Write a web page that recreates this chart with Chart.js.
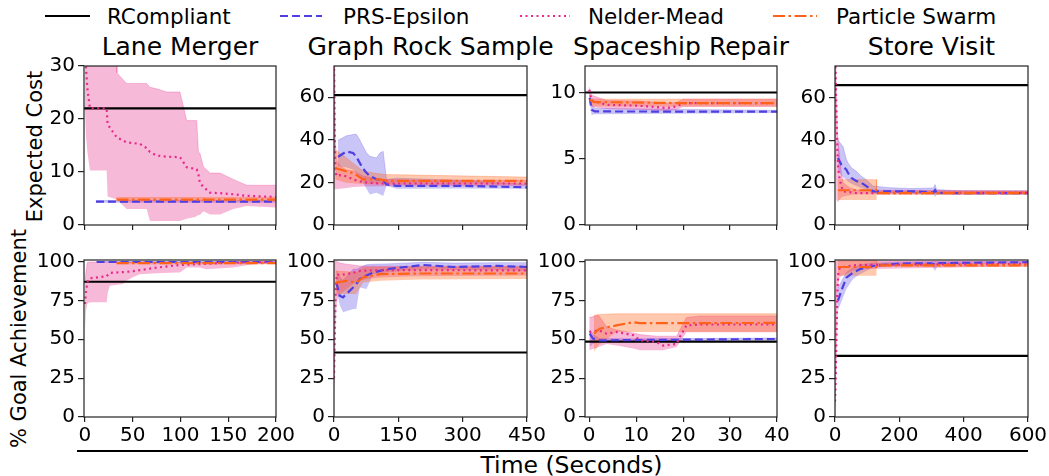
<!DOCTYPE html>
<html><head><meta charset="utf-8">
<script src="https://cdn.jsdelivr.net/npm/chart.js@4.4.0/dist/chart.umd.min.js"></script>
<style>
body{margin:0;background:#fff;width:1049px;height:476px;overflow:hidden;position:relative;font-family:"DejaVu Sans",sans-serif;color:#000}
canvas{position:absolute}
.t{position:absolute;white-space:nowrap;line-height:1}
svg{position:absolute;overflow:visible}
</style></head><body>
<script>
// ---------------- DATA ----------------
const methods = ['RCompliant', 'PRS-Epsilon', 'Nelder-Mead', 'Particle Swarm'];
const taskTitles = ['Lane Merger', 'Graph Rock Sample', 'Spaceship Repair', 'Store Visit'];
const rowLabels = ['Expected Cost', '% Goal Achievement'];
const xAxisLabel = 'Time (Seconds)';

const laneXTicks = [0, 50, 100, 150, 200];
const rockXTicks = [0, 150, 300, 450];
const shipXTicks = [0, 10, 20, 30, 40];
const storeXTicks = [0, 200, 400, 600];
const laneCostTicks = [0, 10, 20, 30];
const rockCostTicks = [0, 20, 40, 60];
const shipCostTicks = [0, 5, 10];
const storeCostTicks = [0, 20, 40, 60];
const goalTicks = [0, 25, 50, 75, 100];

// RCompliant constant values [cost, goal %]
const rcLane = [22, 87];
const rcRock = [61, 41.5];
const rcShip = [10, 48.5];
const rcStore = [66, 39.3];

// rows: [time, mean, lower, upper]
const laneCostPRS = [[11.5, 4.4, 4.2, 4.6], [200, 4.4, 4.2, 4.6]];
const laneCostPS = [[33, 4.8, 4.5, 5.2], [200, 4.8, 4.5, 5.2]];
const laneCostNM = [[0, 32, 22, 34], [1, 30, 17, 34], [2.4, 26, 14, 34], [5.2, 22, 10.3, 34], [22.7, 22, 10.3, 34],
  [23.7, 19, 5.4, 34], [33, 16.6, 4.8, 34], [33.5, 16.5, 4.8, 28.7], [43.6, 15.6, 3.0, 26.7], [57.6, 15.3, 3.0, 26.7],
  [64.6, 14.5, 3.0, 26.7], [68, 13.8, 0.75, 26], [75, 13.1, 0.75, 25.7], [85.5, 12.9, 0.75, 25.1], [99.5, 12.8, 0.75, 25.1],
  [106.5, 10.9, 1.2, 19.7], [115.2, 10.6, 1.5, 19.7], [117, 10.5, 1.7, 19.7], [118.8, 9.5, 1.9, 13.8], [120.4, 7.9, 1.9, 13.5],
  [124, 7.2, 2.6, 11], [130.9, 6.1, 2.0, 9.8], [141.4, 6.0, 2.0, 9.8], [155.3, 5.8, 3.0, 8.6], [169.3, 5.5, 3.6, 7.5], [200, 5.3, 3.3, 7.5]];

const laneGoalPRS = [[12.2, 99.7, 99.4, 100], [200, 99.7, 99.4, 100]];
const laneGoalPS = [[33, 99.0, 98.3, 99.6], [200, 99.0, 98.3, 99.6]];
const laneGoalNM = [[0, 72.7, 55.8, 88], [1, 80, 68, 93], [2.4, 86, 72.7, 99.3], [3.5, 88.7, 73.5, 99.5], [6.9, 89.4, 73.8, 99.7],
  [22.7, 90.5, 73.8, 99.7], [24, 91.5, 80.2, 99.7], [26, 92.7, 84.4, 99.7], [40, 93.2, 85.5, 99.7], [43.6, 93.4, 87.6, 99.7],
  [50.6, 93.8, 90, 99.7], [57.6, 94.5, 91.9, 99.7], [75, 96.1, 92.5, 99.7], [96, 97.6, 92.9, 99.7], [99.5, 97.7, 92.9, 99.7],
  [106.5, 98, 96.1, 99.7], [120, 98.3, 96.1, 99.7], [127, 98.5, 95, 99.7], [155, 99.3, 96.1, 99.8], [176, 99.5, 98.3, 99.8], [200, 99.9, 98.7, 100]];

const rockCostPRS = [[9.4, 32, 27.6, 40], [11.7, 32.3, 27.6, 40], [28.9, 34.6, 27, 41.9], [44.5, 33.8, 26.1, 42.5], [52.2, 32, 24, 42.6],
  [60, 29.2, 22, 40], [67.9, 26.5, 20, 36.9], [75.7, 24.5, 17, 34], [83.5, 23, 14.3, 32.3], [99, 21.5, 15.1, 31.5],
  [106.8, 21.3, 14.5, 33.8], [114.6, 21, 13.6, 34.6], [122.4, 19, 18.4, 21.4], [145.7, 18.4, 17, 22], [300, 18.4, 17.2, 21], [450, 17.7, 17, 19]];
const rockCostPS = [[3, 26.8, 21.4, 35.4], [29, 25.2, 19.9, 31.5], [44.5, 24.4, 19.6, 29], [68, 21.4, 19.3, 25.2], [107, 21.4, 19.1, 24],
  [122, 20.7, 19, 23.7], [450, 20.7, 19, 22.5]];
const rockCostNM = [[0, 76, 30, 78], [1.6, 45, 17, 74], [3, 27, 16.7, 40], [5.5, 23, 16.8, 30.7], [13.3, 23.4, 17, 28], [28.9, 22.9, 17.4, 25.8],
  [44.5, 21.4, 17.8, 25.5], [67.9, 20.1, 18.1, 23], [106.8, 19.5, 18.2, 21.5], [200, 19.5, 18.2, 21], [450, 19.5, 18.3, 21]];

const rockGoalPRS = [[5.5, 86.5, 82, 94], [13.3, 78, 72, 90], [21, 77, 67.4, 88], [44.5, 83.3, 69.5, 95], [52, 85.5, 69.5, 95],
  [60, 88.7, 83.3, 96], [75.7, 91, 82.3, 98], [91.3, 92.9, 91.9, 98.3], [122.4, 95.1, 92.9, 98.5], [208, 97.8, 95, 99.5],
  [280, 96.5, 94.5, 99], [380, 97.2, 94.5, 99.3], [450, 96.5, 94, 99.3]];
const rockGoalPS = [[4, 86.5, 79.2, 93.9], [29, 87.6, 79.2, 93.5], [52, 86.5, 79.2, 92.9], [68, 89.8, 86.5, 96.1], [107, 91.9, 87.6, 96.3],
  [200, 92.3, 88.5, 96.5], [450, 92.3, 88.7, 96.5]];
const rockGoalNM = [[0, 25, 18, 60], [1.6, 49.3, 23.8, 100], [4, 81.2, 60, 100], [5.5, 88, 70.6, 100], [7, 91.9, 75, 100], [13.3, 91.3, 79.1, 99],
  [29, 91.9, 82, 98.3], [44.5, 92.8, 85.5, 97.8], [60, 94, 87.5, 97.2], [75.7, 94.2, 88.7, 97.2], [107, 94.4, 89.8, 97], [185, 94.5, 90.5, 97], [450, 94.3, 91, 97]];

const shipCostPRS = [[0.1, 9.6, 9.3, 9.9], [0.5, 8.7, 8.3, 9.1], [1.2, 8.57, 8.35, 8.8], [40, 8.55, 8.45, 8.65]];
const shipCostPS = [[0.1, 9.45, 9.1, 9.6], [1, 9.28, 8.95, 9.5], [19.3, 9.2, 8.95, 9.5], [40, 9.2, 8.95, 9.5]];
const shipCostNM = [[0, 10.2, 9.6, 10.4], [0.5, 9.4, 8.9, 9.8], [3.7, 9.07, 8.75, 9.4], [10.8, 9.0, 8.7, 9.35], [16.5, 8.83, 8.6, 9.2],
  [18.6, 8.95, 8.7, 9.25], [20, 9.2, 8.9, 9.5], [40, 9.2, 8.9, 9.5]];

const shipGoalPRS = [[0.1, 53.6, 45, 56], [0.8, 50.4, 47, 53], [2.2, 49.3, 48.3, 50.5], [10, 49.5, 48.8, 50.3], [40, 50.2, 49.6, 50.8]];
const shipGoalPS = [[1, 53.6, 42, 65.4], [2.2, 56.8, 47, 66], [5.8, 58.9, 54.7, 66.4], [9.4, 61, 54.7, 66.4], [10.8, 60.4, 54.7, 66.4], [40, 60.5, 54.7, 66.4]];
const shipGoalNM = [[0, 54.7, 43, 64], [2, 55.8, 45, 65.4], [3.7, 53.6, 47, 58], [5.8, 54.7, 46, 56], [9.4, 52.6, 44, 54], [10.8, 49.3, 43, 53],
  [14.3, 48.3, 43, 52], [15.7, 46, 43, 52], [18.6, 47, 45, 52], [19.3, 51.5, 48, 56], [20.7, 58.9, 54.6, 64], [23.5, 59.5, 54.6, 65], [40, 59.5, 54.6, 65]];

const storeCostPRS = [[9, 31.6, 26.1, 40.2], [19.7, 28.5, 23.5, 38], [25, 27.5, 22.5, 37], [35.3, 26.1, 21.4, 31], [40.6, 24.5, 20.5, 29.3],
  [51, 22.2, 19.4, 27], [66.6, 20.7, 18.4, 25.3], [82, 19.9, 17.5, 23], [97.6, 18.3, 16.5, 21.4], [118, 15.9, 15, 18.4], [170, 15.9, 15, 17.6],
  [240, 15.9, 14.8, 17.2], [306, 15.4, 14.3, 17.5], [311, 16.5, 13.5, 19.1], [316, 15.2, 14.3, 16.7], [379, 15, 14.3, 16.2], [600, 15, 14.3, 16.2]];
const storeCostPS = [[9, 16.4, 11.8, 21.4], [129, 16.4, 11.8, 21.4], [129.5, 15, 14.3, 16], [600, 15, 14.3, 16]];
const storeCostNM = [[0, 80, 60, 80], [2.2, 70, 30, 78], [4.3, 55, 12, 62], [7.4, 35.5, 11, 44], [10.5, 26, 11, 38], [14.7, 21.4, 12, 32],
  [20, 18.5, 13, 24.6], [25, 15.9, 13.5, 20], [45, 15.5, 14, 17.6], [66.6, 15, 14.5, 16.5], [600, 15.2, 14.5, 16]];

const storeGoalPRS = [[9, 74.9, 68.5, 83.3], [19.7, 81.2, 74, 87], [35.3, 89.7, 82.3, 92.9], [56, 92.9, 88.7, 96], [77, 95.1, 91.9, 97.8],
  [118, 97.2, 96.1, 99], [201, 98.7, 97.5, 99.6], [300, 98.9, 97.8, 99.8], [311, 98, 94, 100], [320, 99, 98, 99.8], [600, 99.6, 99, 100]];
const storeGoalPS = [[9, 96.5, 90.8, 100.5], [129, 96.5, 90.8, 100.5], [129.5, 97.5, 96.5, 98.7], [600, 97.5, 96.5, 98.7]];
const storeGoalNM = [[0, 10, 0, 30], [2, 23.8, 10, 60], [4.3, 49.3, 25, 100], [7.4, 81.2, 60, 100.5], [10.5, 92.9, 85, 100.5],
  [14.7, 96.1, 90, 100.5], [66.6, 97.8, 95, 100.5], [600, 98.5, 97, 100]];

// ---------------- STYLE / LAYOUT ----------------
const ST = {
  rc: {color: '#000000', dash: []},
  prs: {color: '#4f3fe3', fill: 'rgba(79,63,227,0.30)', dash: [8, 4]},
  nm: {color: '#e7298a', fill: 'rgba(231,41,138,0.33)', dash: [2, 3.5]},
  ps: {color: '#ff6319', fill: 'rgba(255,99,25,0.35)', dash: [12, 3.5, 2.5, 3.5]}
};
const cols = [[84, 276], [334, 527], [585, 777], [835, 1028]];
const rowsPx = [[65, 226], [259, 417]];
const FONT = '"DejaVu Sans", sans-serif';
const TICK_SIZE = 20;

const panels = [
  {row: 0, col: 0, xr: [-1, 200], yr: [0, 30], xt: laneXTicks, yt: laneCostTicks, rc: rcLane[0], prs: laneCostPRS, nm: laneCostNM, ps: laneCostPS},
  {row: 0, col: 1, xr: [0, 450], yr: [0, 74.7], xt: rockXTicks, yt: rockCostTicks, rc: rcRock[0], prs: rockCostPRS, nm: rockCostNM, ps: rockCostPS},
  {row: 0, col: 2, xr: [-0.9, 40], yr: [0, 12], xt: shipXTicks, yt: shipCostTicks, rc: rcShip[0], prs: shipCostPRS, nm: shipCostNM, ps: shipCostPS},
  {row: 0, col: 3, xr: [0, 600], yr: [0, 75], xt: storeXTicks, yt: storeCostTicks, rc: rcStore[0], prs: storeCostPRS, nm: storeCostNM, ps: storeCostPS},
  {row: 1, col: 0, xr: [-1, 200], yr: [0, 101], xt: laneXTicks, yt: goalTicks, rc: rcLane[1], prs: laneGoalPRS, nm: laneGoalNM, ps: laneGoalPS},
  {row: 1, col: 1, xr: [0, 450], yr: [0, 101], xt: rockXTicks, yt: goalTicks, rc: rcRock[1], prs: rockGoalPRS, nm: rockGoalNM, ps: rockGoalPS},
  {row: 1, col: 2, xr: [-0.9, 40], yr: [0, 101], xt: shipXTicks, yt: goalTicks, rc: rcShip[1], prs: shipGoalPRS, nm: shipGoalNM, ps: shipGoalPS},
  {row: 1, col: 3, xr: [0, 600], yr: [0, 101], xt: storeXTicks, yt: goalTicks, rc: rcStore[1], prs: storeGoalPRS, nm: storeGoalNM, ps: storeGoalPS}
];

const boxPlugin = {
  id: 'box',
  afterDatasetsDraw(chart) {
    const {ctx, chartArea: a} = chart;
    ctx.save();
    ctx.strokeStyle = '#222';
    ctx.lineWidth = 1.2;
    ctx.strokeRect(a.left, a.top, a.right - a.left, a.bottom - a.top);
    ctx.restore();
  }
};

function bandAndLine(rows, st, label, lineOrder, bandOrder) {
  return [
    {label: label, data: rows.map(r => ({x: r[0], y: r[1]})), borderColor: st.color, borderDash: st.dash,
      borderWidth: 2.2, fill: false, order: lineOrder},
    {label: label + ' lower', data: rows.map(r => ({x: r[0], y: r[2]})), borderColor: 'rgba(0,0,0,0)',
      borderWidth: 0, fill: false, order: bandOrder},
    {label: label + ' upper', data: rows.map(r => ({x: r[0], y: r[3]})), borderColor: st.fill,
      backgroundColor: st.fill, borderWidth: 0.8, fill: '-1', order: bandOrder}
  ];
}

function makeChart(p) {
  const [L, R] = cols[p.col];
  const [T, B] = rowsPx[p.row];
  const padL = 62, padT = 14, padR = 32, padB = p.row === 0 ? 14 : 42;
  const c = document.createElement('canvas');
  c.width = (R - L) + padL + padR;
  c.height = (B - T) + padT + padB;
  c.style.left = (L - padL) + 'px';
  c.style.top = (T - padT) + 'px';
  document.body.appendChild(c);

  const datasets = [
    {label: methods[0], data: [{x: p.xr[0], y: p.rc}, {x: p.xr[1], y: p.rc}], borderColor: ST.rc.color,
      borderWidth: 2.2, fill: false, order: 4},
    ...bandAndLine(p.prs, ST.prs, methods[1], 3, 12),
    ...bandAndLine(p.nm, ST.nm, methods[2], 2, 11),
    ...bandAndLine(p.ps, ST.ps, methods[3], 1, 10)
  ];

  new Chart(c, {
    type: 'line',
    data: {datasets},
    options: {
      responsive: false, animation: false, devicePixelRatio: 1,
      layout: {padding: {left: 0, top: padT, right: padR, bottom: 0}},
      plugins: {legend: {display: false}, tooltip: {enabled: false}, title: {display: false}},
      elements: {point: {radius: 0}, line: {tension: 0}},
      scales: {
        x: {
          type: 'linear', min: p.xr[0], max: p.xr[1],
          afterBuildTicks: s => { s.ticks = p.xt.map(v => ({value: v})); },
          afterFit: s => { s.height = padB; },
          ticks: {display: p.row === 1, font: {family: FONT, size: TICK_SIZE}, color: '#000', padding: 2, maxRotation: 0, autoSkip: false},
          grid: {drawOnChartArea: false, drawTicks: true, tickLength: 5, color: '#222', lineWidth: 1.2},
          border: {display: false}
        },
        y: {
          type: 'linear', min: p.yr[0], max: p.yr[1],
          afterBuildTicks: s => { s.ticks = p.yt.map(v => ({value: v})); },
          afterFit: s => { s.width = padL; },
          ticks: {font: {family: FONT, size: TICK_SIZE}, color: '#000', padding: 3, autoSkip: false},
          grid: {drawOnChartArea: false, drawTicks: true, tickLength: 6, color: '#222', lineWidth: 1.2},
          border: {display: false}
        }
      }
    },
    plugins: [boxPlugin]
  });
}

function addText(txt, left, top, size, extra) {
  const d = document.createElement('div');
  d.className = 't';
  d.textContent = txt;
  d.style.left = left + 'px';
  d.style.top = top + 'px';
  d.style.fontSize = size + 'px';
  if (extra) Object.assign(d.style, extra);
  document.body.appendChild(d);
  return d;
}

function addCentered(txt, cx, top, size) {
  addText(txt, cx - 200, top, size, {width: '400px', textAlign: 'center'});
}

function addRotated(txt, cx, cy, size) {
  const w = 400;
  addText(txt, cx - w / 2, cy - size / 2, size, {width: w + 'px', height: size + 'px', textAlign: 'center', transform: 'rotate(-90deg)', transformOrigin: '50% 50%'});
}

function legendSample(x1, x2, y, st) {
  const ns = 'http://www.w3.org/2000/svg';
  const s = document.createElementNS(ns, 'svg');
  s.setAttribute('width', x2 - x1 + 4);
  s.setAttribute('height', 8);
  s.style.left = (x1 - 2) + 'px';
  s.style.top = (y - 4) + 'px';
  const l = document.createElementNS(ns, 'line');
  l.setAttribute('x1', 2); l.setAttribute('x2', x2 - x1 + 2);
  l.setAttribute('y1', 4); l.setAttribute('y2', 4);
  l.setAttribute('stroke', st.color);
  l.setAttribute('stroke-width', 2.2);
  if (st.dash.length) l.setAttribute('stroke-dasharray', st.dash.join(' '));
  s.appendChild(l);
  document.body.appendChild(s);
}

// legend
const legendPos = [[45, 90, 107], [280, 322, 343], [520, 570, 588], [773, 817, 836]];
const legendStyles = [ST.rc, ST.prs, ST.nm, ST.ps];
methods.forEach((m, i) => {
  const [a, b, tx] = legendPos[i];
  legendSample(a, b, 16, legendStyles[i]);
  addText(m, tx, 5.5, 21.5);
});

// titles
taskTitles.forEach((t, i) => {
  const [L, R] = cols[i];
  addCentered(t, (L + R) / 2, 33.5, 25);
});

// row labels
addRotated(rowLabels[0], 35, 146, 21);
addRotated(rowLabels[1], 18.5, 338, 21);

// x label + rule
const rule = document.createElement('div');
Object.assign(rule.style, {position: 'absolute', left: '77px', top: '449.5px', width: '951px', height: '2px', background: '#000'});
document.body.appendChild(rule);
addCentered(xAxisLabel, 571.5, 454, 23.5);

panels.forEach(makeChart);
</script>
</body></html>
